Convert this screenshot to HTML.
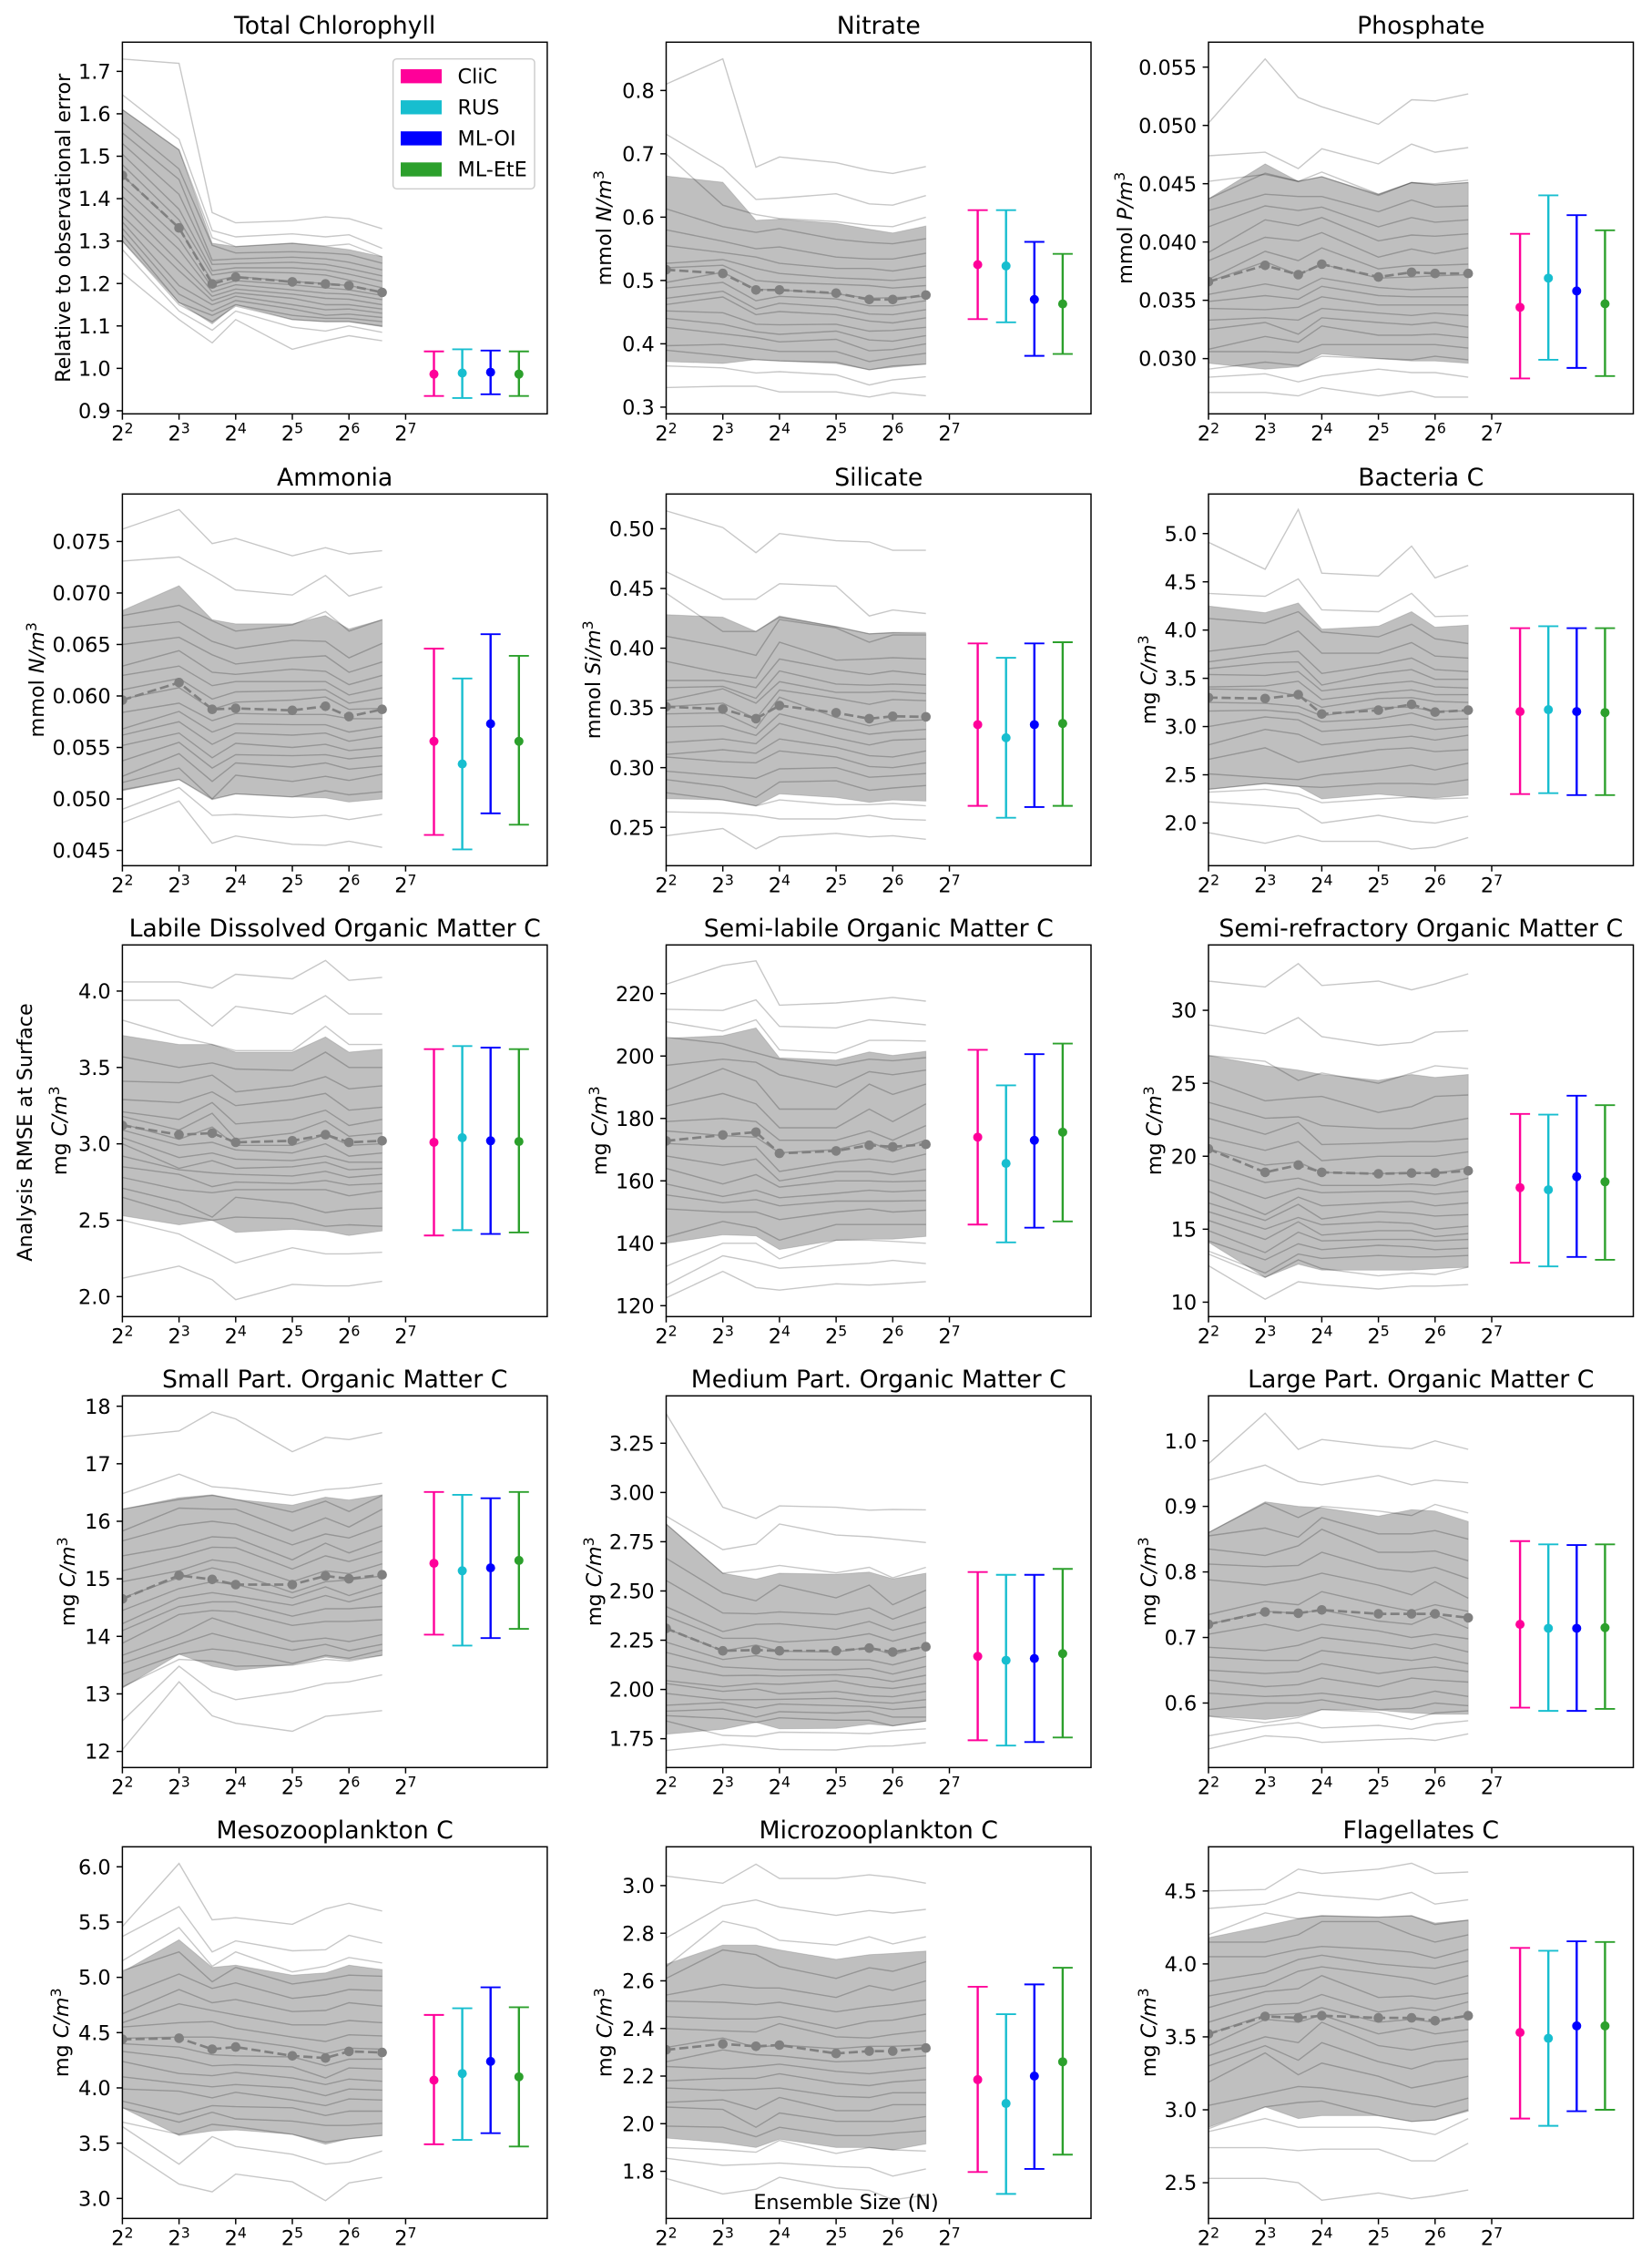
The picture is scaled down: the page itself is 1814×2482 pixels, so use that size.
<!DOCTYPE html>
<html lang="en">
<head>
<meta charset="utf-8">
<title>Analysis RMSE at Surface vs Ensemble Size</title>
<style>
html,body{margin:0;padding:0;background:#fff;}
svg{display:block;font-family:"DejaVu Sans","Liberation Sans",sans-serif;}
</style>
</head>
<body>
<svg id="figure" xmlns="http://www.w3.org/2000/svg" width="1814" height="2482" viewBox="0 0 1814 2482"></svg>
<script>
// ---------- shared categories ----------
const ensembleSizes = [4, 8, 12, 16, 32, 48, 64, 96];
const methodExponents = [7.5, 8, 8.5, 9];
const methodNames = ['CliC', 'RUS', 'ML-OI', 'ML-EtE'];
const methodColors = ['#ff0099', '#17becf', '#0000ff', '#2ca02c'];
const xTickExponents = [2, 3, 4, 5, 6, 7];

// ---------- Total Chlorophyll ----------
const chlYlim = [0.8928, 1.7688];
const chlTicks = ['0.9','1.0','1.1','1.2','1.3','1.4','1.5','1.6','1.7'];
const chlMembersBySize = [
[1.729,1.645,1.61,1.58,1.555,1.53,1.505,1.48,1.455,1.43,1.405,1.385,1.36,1.345,1.33,1.315,1.30,1.28,1.225],
[1.719,1.54,1.515,1.47,1.445,1.41,1.375,1.35,1.33,1.305,1.28,1.25,1.23,1.195,1.175,1.155,1.15,1.135,1.115],
[1.367,1.325,1.308,1.29,1.255,1.245,1.23,1.22,1.205,1.19,1.18,1.17,1.16,1.15,1.135,1.125,1.11,1.09,1.06],
[1.343,1.31,1.287,1.272,1.258,1.247,1.237,1.228,1.217,1.207,1.197,1.187,1.178,1.17,1.16,1.15,1.147,1.135,1.115],
[1.348,1.317,1.295,1.275,1.262,1.25,1.237,1.225,1.205,1.197,1.185,1.175,1.165,1.15,1.14,1.125,1.115,1.097,1.045],
[1.357,1.31,1.288,1.272,1.258,1.245,1.232,1.22,1.20,1.19,1.177,1.165,1.15,1.138,1.125,1.118,1.11,1.088,1.065],
[1.353,1.315,1.293,1.268,1.25,1.235,1.222,1.208,1.195,1.185,1.175,1.163,1.15,1.14,1.128,1.118,1.11,1.10,1.077],
[1.329,1.283,1.263,1.248,1.232,1.218,1.205,1.19,1.18,1.172,1.162,1.15,1.14,1.13,1.12,1.11,1.10,1.085,1.065]];
const chlBandTop = [1.61,1.515,1.295,1.287,1.295,1.287,1.28,1.263];
const chlBandBottom = [1.30,1.155,1.105,1.15,1.115,1.11,1.11,1.098];
const chlMean = [1.455,1.331,1.199,1.215,1.204,1.199,1.195,1.179];
const chlErrMid = [0.9865,0.989,0.991,0.9865];
const chlErrHigh = [1.04,1.045,1.042,1.04];
const chlErrLow = [0.935,0.93,0.939,0.935];

// ---------- Nitrate ----------
const no3Ylim = [0.2894, 0.8763];
const no3Ticks = ['0.3','0.4','0.5','0.6','0.7','0.8'];
const no3MembersByLine = [
[.81,.85,.679,.695,.686,.674,.669,.68],
[.731,.678,.628,.63,.637,.621,.619,.634],
[.70,.619,.604,.598,.593,.587,.585,.60],
[.613,.585,.576,.582,.565,.56,.558,.566],
[.58,.562,.55,.553,.537,.534,.534,.543],
[.555,.544,.537,.527,.519,.519,.515,.523],
[.527,.533,.519,.511,.504,.502,.50,.505],
[.52,.524,.50,.497,.494,.492,.488,.492],
[.497,.513,.486,.485,.479,.472,.473,.475],
[.488,.497,.468,.475,.471,.46,.46,.468],
[.472,.483,.455,.464,.458,.447,.446,.454],
[.462,.474,.446,.451,.446,.436,.433,.441],
[.452,.449,.431,.43,.431,.42,.421,.426],
[.44,.431,.419,.415,.42,.406,.404,.413],
[.426,.416,.41,.403,.407,.389,.391,.40],
[.397,.399,.393,.388,.388,.372,.378,.385],
[.39,.381,.375,.373,.371,.359,.365,.368],
[.365,.362,.354,.356,.351,.335,.343,.348],
[.331,.333,.333,.324,.324,.316,.323,.318]];
const no3BandTop = [.665,.655,.595,.597,.59,.581,.575,.586];
const no3BandBottom = [.372,.369,.375,.373,.369,.359,.363,.368];
const no3Mean = [.517,.511,.485,.485,.48,.47,.47,.477];
const no3ErrMid = [.525,.523,.47,.463];
const no3ErrHigh = [.611,.611,.561,.542];
const no3ErrLow = [.439,.434,.381,.384];

// ---------- Phosphate ----------
const po4Ylim = [0.02526, 0.05714];
const po4Ticks = ['0.030','0.035','0.040','0.045','0.050','0.055'];
const po4MembersByLine = [
[.0502,.0557,.0524,.0516,.0501,.0522,.0521,.0527],
[.0474,.0477,.0463,.048,.0467,.0484,.0477,.0481],
[.0452,.0458,.0452,.046,.0441,.0451,.045,.0453],
[.0437,.0459,.0452,.0456,.044,.0451,.0449,.0451],
[.0427,.0441,.0439,.0439,.0426,.0436,.043,.0431],
[.0413,.0431,.0427,.043,.0413,.0421,.0417,.0419],
[.0391,.0419,.0414,.0421,.0401,.0406,.0405,.0407],
[.0384,.0404,.0401,.0408,.0387,.0394,.039,.0395],
[.0368,.0392,.0384,.0395,.0377,.038,.038,.0381],
[.0366,.0383,.0372,.0381,.0369,.037,.0371,.0372],
[.0355,.0364,.0359,.0369,.0361,.0359,.036,.0361],
[.0349,.0354,.0351,.0362,.0354,.0353,.0353,.0353],
[.0343,.0342,.0344,.0353,.0346,.0346,.0346,.0346],
[.0333,.0335,.0333,.0343,.0339,.0337,.0339,.0337],
[.0325,.0331,.0321,.0335,.0331,.0329,.0331,.0327],
[.0308,.0319,.0314,.0328,.032,.032,.0321,.0318],
[.0306,.0306,.0305,.0312,.0312,.0312,.0312,.0309],
[.0291,.0297,.0294,.0302,.03,.0299,.0302,.0299],
[.0284,.0287,.028,.0285,.0291,.0288,.0288,.0284],
[.0271,.0271,.0268,.0275,.0268,.0272,.0267,.0267]];
const po4BandTop = [.0437,.0467,.0452,.0456,.0441,.0451,.0449,.0451];
const po4BandBottom = [.0296,.0291,.0293,.0304,.03,.0298,.0298,.0296];
const po4Mean = [.0366,.038,.0372,.0381,.037,.0374,.0373,.0373];
const po4ErrMid = [.0344,.0369,.0358,.0347];
const po4ErrHigh = [.0407,.044,.0423,.041];
const po4ErrLow = [.0283,.0299,.0292,.0285];

// ---------- Ammonia ----------
const nh4Ylim = [0.04352, 0.07961];
const nh4Ticks = ['0.045','0.050','0.055','0.060','0.065','0.070','0.075'];
const nh4MembersBySize = [
[.0762,.0731,.0678,.0666,.065,.0629,.062,.0606,.0597,.0584,.0568,.0562,.0552,.0537,.0522,.0516,.0509,.049,.0477],
[.0781,.0735,.0688,.0672,.0657,.0644,.0629,.0617,.0608,.0593,.0585,.0575,.0564,.0555,.0544,.053,.0519,.0511,.0498],
[.0748,.0717,.0673,.0653,.064,.0623,.061,.0597,.0587,.0576,.0565,.0553,.054,.053,.0517,.05,.04995,.0484,.0457],
[.0753,.0703,.0663,.0646,.0631,.0621,.0614,.0604,.0594,.0583,.0573,.0564,.0554,.0543,.0535,.0523,.0505,.0485,.0464],
[.0736,.0698,.0669,.0654,.0637,.0626,.0614,.0605,.0596,.0582,.0572,.0562,.055,.0542,.0531,.0517,.0502,.0482,.0456],
[.0744,.0717,.0682,.0653,.0639,.0624,.0614,.0606,.0599,.0582,.0572,.0564,.0553,.0543,.0535,.0522,.0508,.0484,.0455],
[.0738,.0697,.0663,.0637,.0623,.0611,.0601,.0593,.0587,.0578,.0565,.0556,.0547,.0539,.0529,.0518,.0504,.048,.0459],
[.0741,.0706,.0674,.0651,.0633,.062,.0608,.0598,.0588,.0578,.057,.0561,.055,.0542,.0532,.0524,.0507,.0485,.0453]];
const nh4BandTop = [.0683,.0707,.0674,.067,.067,.0678,.0665,.0674];
const nh4BandBottom = [.0508,.0519,.05,.0505,.0502,.0501,.0497,.05];
const nh4Mean = [.0596,.0613,.0587,.0588,.0586,.059,.058,.0587];
const nh4ErrMid = [.0556,.0534,.0573,.0556];
const nh4ErrHigh = [.0646,.0617,.066,.0639];
const nh4ErrLow = [.0465,.0451,.0486,.0475];

// ---------- Silicate ----------
const sio3Ylim = [0.2179, 0.5291];
const sio3Ticks = ['0.25','0.30','0.35','0.40','0.45','0.50'];
const sio3MembersBySize = [
[.515,.464,.446,.41,.389,.373,.367,.356,.351,.345,.334,.321,.311,.309,.297,.29,.279,.263,.243],
[.501,.441,.414,.401,.379,.373,.368,.366,.354,.346,.335,.324,.315,.305,.293,.284,.273,.262,.249],
[.48,.441,.414,.394,.375,.367,.358,.354,.341,.333,.327,.32,.312,.304,.291,.275,.268,.26,.232],
[.496,.454,.426,.424,.405,.391,.381,.372,.365,.359,.345,.337,.324,.314,.299,.288,.273,.257,.242],
[.49,.452,.418,.417,.39,.382,.37,.363,.358,.342,.334,.325,.317,.309,.3,.289,.269,.257,.245],
[.489,.427,.412,.405,.391,.378,.369,.363,.353,.335,.328,.319,.31,.301,.292,.281,.269,.26,.242],
[.482,.432,.413,.411,.392,.381,.37,.364,.357,.339,.33,.323,.309,.3,.293,.283,.27,.257,.243],
[.482,.429,.413,.411,.391,.378,.369,.362,.356,.34,.332,.324,.314,.304,.295,.285,.268,.256,.24]];
const sio3BandTop = [.428,.426,.414,.427,.418,.412,.413,.4125];
const sio3BandBottom = [.274,.273,.268,.278,.275,.271,.273,.272];
const sio3Mean = [.351,.349,.341,.352,.346,.341,.343,.3425];
const sio3ErrMid = [.336,.325,.336,.337];
const sio3ErrHigh = [.404,.392,.404,.405];
const sio3ErrLow = [.268,.258,.267,.268];

// ---------- Bacteria C ----------
const bacYlim = [1.558, 5.41];
const bacTicks = ['2.0','2.5','3.0','3.5','4.0','4.5','5.0'];
const bacMembersBySize = [
[4.91,4.38,4.12,3.78,3.67,3.6,3.54,3.41,3.39,3.25,3.16,3.0,2.81,2.66,2.51,2.35,2.32,2.22,1.9],
[4.63,4.35,4.07,3.85,3.75,3.66,3.53,3.42,3.38,3.24,3.17,3.10,2.97,2.78,2.47,2.41,2.35,2.18,1.79],
[5.25,4.53,4.19,3.99,3.78,3.67,3.57,3.47,3.32,3.21,3.14,3.07,2.92,2.63,2.45,2.38,2.30,2.15,1.87],
[4.59,4.21,3.98,3.76,3.55,3.43,3.37,3.28,3.2,3.11,3.05,2.95,2.81,2.67,2.5,2.37,2.21,2.0,1.81],
[4.56,4.19,3.93,3.76,3.64,3.55,3.44,3.35,3.29,3.2,3.08,2.99,2.87,2.76,2.55,2.41,2.25,2.08,1.81],
[4.87,4.38,4.06,3.87,3.71,3.59,3.47,3.38,3.3,3.2,3.14,3.02,2.9,2.78,2.6,2.41,2.27,2.02,1.73],
[4.54,4.14,3.91,3.73,3.59,3.49,3.41,3.33,3.26,3.16,3.07,2.97,2.86,2.74,2.55,2.4,2.25,2.0,1.75],
[4.67,4.15,3.86,3.71,3.57,3.49,3.4,3.33,3.25,3.16,3.08,3.0,2.91,2.76,2.62,2.45,2.26,2.07,1.85]];
const bacBandTop = [4.25,4.18,4.28,4.01,4.04,4.19,4.03,4.05];
const bacBandBottom = [2.35,2.41,2.38,2.25,2.3,2.27,2.26,2.29];
const bacMean = [3.3,3.29,3.33,3.13,3.17,3.23,3.15,3.17];
const bacErrMid = [3.155,3.175,3.155,3.145];
const bacErrHigh = [4.02,4.04,4.02,4.02];
const bacErrLow = [2.3,2.31,2.29,2.29];

// ---------- Labile DOM C ----------
const ldomYlim = [1.869, 4.302];
const ldomTicks = ['2.0','2.5','3.0','3.5','4.0'];
const ldomMembersBySize = [
[4.06,3.94,3.81,3.57,3.41,3.29,3.21,3.18,3.13,3.09,3.04,3.0,2.92,2.85,2.78,2.71,2.65,2.5,2.12],
[4.06,3.94,3.7,3.5,3.4,3.27,3.16,3.09,3.03,2.99,2.91,2.84,2.83,2.8,2.7,2.62,2.54,2.41,2.2],
[4.02,3.77,3.65,3.53,3.45,3.34,3.27,3.2,3.11,3.01,2.94,2.89,2.81,2.72,2.68,2.52,2.5,2.3,2.11],
[4.11,3.9,3.61,3.49,3.34,3.25,3.13,3.03,2.99,2.96,2.9,2.84,2.8,2.75,2.7,2.65,2.52,2.22,1.98],
[4.08,3.85,3.61,3.48,3.38,3.29,3.16,3.07,2.99,2.94,2.89,2.85,2.79,2.74,2.7,2.61,2.51,2.32,2.08],
[4.2,3.97,3.77,3.6,3.44,3.33,3.22,3.15,3.06,3.0,2.92,2.88,2.82,2.76,2.7,2.55,2.46,2.28,2.07],
[4.07,3.85,3.65,3.5,3.36,3.22,3.12,3.05,2.99,2.92,2.88,2.83,2.78,2.73,2.66,2.57,2.47,2.28,2.07],
[4.09,3.85,3.65,3.5,3.38,3.24,3.16,3.07,3.0,2.94,2.88,2.84,2.8,2.74,2.69,2.58,2.46,2.29,2.1]];
const ldomBandTop = [3.71,3.65,3.65,3.6,3.6,3.7,3.6,3.62];
const ldomBandBottom = [2.53,2.47,2.5,2.42,2.44,2.43,2.4,2.43];
const ldomMean = [3.12,3.06,3.07,3.01,3.02,3.06,3.01,3.02];
const ldomErrMid = [3.01,3.04,3.02,3.015];
const ldomErrHigh = [3.62,3.64,3.63,3.62];
const ldomErrLow = [2.4,2.435,2.41,2.42];

// ---------- Semi-labile OM C ----------
const slomYlim = [116.5, 235.6];
const slomTicks = ['120','140','160','180','200','220'];
const slomMembersBySize = [
[223,215,211,206,197,189,184,179,176,172,168,164,159,155.5,151,142,132.6,126.6,122.5],
[229,214.6,208,204,199,196,188,180,174.5,171,165,159,155,153,150,147,140,136,131],
[230.5,218,211.6,201,198,192,184.7,179,174,171,167,162,157,154,150,145,140,134,125.8],
[216.3,209.5,202,199,194,183,177,173,169,163,160,158,154.6,152,147.6,141,135,132,125],
[217,209,201,197,190,183,177,173,170,166,163,160,156,153.5,150,146,141,133,127],
[218,211.6,205,199,195,191,183,176,172.5,167,163,160,157,153.5,151,146,141,133.6,126.6],
[218.8,211,205,198.5,194,187.7,179,173,169.5,166,162,159.7,156.5,153.5,150,146,140.6,134.5,127],
[217.6,210,204.8,199.5,195.5,191,184.7,177.7,173,168.6,163.7,160,157,153.7,150.6,146,140,133.5,127.7]];
const slomBandTop = [205.7,206.5,209,199.4,198.7,201.3,200.2,201.5];
const slomBandBottom = [140,142.7,142.4,138,141,141.3,141.3,142.2];
const slomMean = [172.8,174.7,175.6,168.8,169.6,171.4,170.9,171.7];
const slomErrMid = [174,165.6,173,175.6];
const slomErrHigh = [202,190.6,200.6,204];
const slomErrLow = [146,140.3,145,147];

// ---------- Semi-refractory OM C ----------
const srefYlim = [9.01, 34.48];
const srefTicks = ['10','15','20','25','30'];
const srefMembersBySize = [
[32,29,26.9,25.2,23.7,22.6,21.3,20.5,19.5,18.4,17.6,16.8,16.2,15.6,14.9,14.2,13.5,13.3,12.5],
[31.6,28.4,26.5,23.8,22.6,21.5,20.4,19.4,18.2,17.1,16,15.6,15,14.3,13.4,12.9,12,11.7,10.2],
[33.2,29.5,25.2,24,22.7,22.3,21,19.6,18.5,17.8,17.2,16.7,15.8,15.5,14.8,14,13.3,12.9,11.4],
[31.7,28.2,25.7,24.1,22.1,20.8,19.7,18.9,18,17.5,16.6,15.7,15.3,14.6,14.2,13.6,13,12.3,11.2],
[32,27.6,25,23,21.9,20.9,20,18.8,18,17.6,16.8,16.2,15.5,14.9,14.3,13.9,13.2,11.8,10.9],
[31.4,27.8,25.7,23.4,21.9,21,20,18.9,18.1,17.6,16.9,16.1,15.4,14.9,14.3,13.8,13.1,12,11.1],
[31.8,28.5,26.2,24.1,22.2,21,20,18.8,18,17.4,16.6,15.9,15,14.5,14.2,13.6,13.1,11.9,11.1],
[32.5,28.6,26,24.2,22.6,21.2,20.3,19.2,18.5,17.6,16.8,16,15.2,14.7,14.3,13.7,13.2,12.4,11.2]];
const srefBandTop = [26.9,26.2,25.9,25.6,25.2,25.6,25.4,25.6];
const srefBandBottom = [14.1,11.7,12.6,12.2,12.2,12.2,12.3,12.4];
const srefMean = [20.5,18.9,19.4,18.9,18.8,18.85,18.85,19];
const srefErrMid = [17.85,17.7,18.6,18.25];
const srefErrHigh = [22.9,22.85,24.15,23.5];
const srefErrLow = [12.7,12.45,13.1,12.9];

// ---------- Small Part. OM C ----------
const spomYlim = [11.72, 18.18];
const spomTicks = ['12','13','14','15','16','17','18'];
const spomMembersBySize = [
[17.47,16.48,16.21,15.83,15.66,15.4,15.14,14.95,14.67,14.45,14.22,14.1,13.88,13.67,13.53,13.34,13.12,12.53,12.03],
[17.57,16.82,16.38,16.23,15.93,15.57,15.38,15.14,15.02,14.83,14.67,14.52,14.38,14.03,13.86,13.69,13.6,13.48,13.21],
[17.9,16.6,16.45,16.21,16.0,15.73,15.55,15.33,15.19,14.95,14.76,14.6,14.45,14.32,14.05,13.78,13.57,13.04,12.62],
[17.78,16.57,16.38,16.21,15.95,15.71,15.54,15.28,15.1,14.9,14.7,14.6,14.43,14.19,13.95,13.74,13.48,12.9,12.49],
[17.21,16.45,16.16,15.83,15.59,15.33,15.17,14.95,14.76,14.67,14.54,14.35,14.19,13.91,13.76,13.53,13.5,13.04,12.35],
[17.46,16.55,16.35,16.06,15.78,15.62,15.4,15.14,14.95,14.86,14.71,14.48,14.26,13.97,13.86,13.67,13.6,13.18,12.61],
[17.42,16.58,16.17,15.9,15.71,15.45,15.3,15.09,14.98,14.71,14.6,14.48,14.26,13.91,13.75,13.62,13.57,13.21,12.65],
[17.54,16.66,16.45,16.21,15.92,15.66,15.47,15.26,15.05,14.89,14.76,14.52,14.29,14.03,13.86,13.76,13.67,13.33,12.71]];
const spomBandTop = [16.21,16.41,16.46,16.38,16.28,16.42,16.37,16.46];
const spomBandBottom = [13.1,13.69,13.48,13.41,13.51,13.64,13.59,13.67];
const spomMean = [14.65,15.06,14.99,14.9,14.9,15.05,15.0,15.07];
const spomErrMid = [15.27,15.14,15.19,15.32];
const spomErrHigh = [16.51,16.46,16.4,16.51];
const spomErrLow = [14.03,13.84,13.97,14.13];

// ---------- Medium Part. OM C ----------
const mpomYlim = [1.6036, 3.4905];
const mpomTicks = ['1.75','2.00','2.25','2.50','2.75','3.00','3.25'];
const mpomMembersBySize = [
[3.4,2.88,2.84,2.666,2.553,2.42,2.373,2.31,2.24,2.188,2.12,2.045,2.03,1.98,1.92,1.89,1.867,1.84,1.69],
[2.925,2.71,2.59,2.49,2.388,2.294,2.26,2.195,2.152,2.114,2.07,2.014,1.99,1.948,1.934,1.90,1.853,1.767,1.72],
[2.868,2.738,2.61,2.45,2.384,2.33,2.26,2.225,2.172,2.106,2.072,2.03,2.003,1.948,1.906,1.86,1.833,1.762,1.707],
[2.932,2.84,2.63,2.53,2.394,2.334,2.24,2.194,2.152,2.1,2.068,2.026,1.978,1.95,1.926,1.887,1.856,1.783,1.695],
[2.925,2.784,2.592,2.465,2.38,2.305,2.256,2.19,2.15,2.1,2.075,2.044,1.99,1.955,1.918,1.88,1.844,1.78,1.693],
[2.91,2.775,2.62,2.53,2.414,2.345,2.283,2.214,2.15,2.106,2.06,2.014,1.968,1.937,1.914,1.89,1.844,1.776,1.712],
[2.914,2.763,2.567,2.43,2.357,2.3,2.245,2.176,2.125,2.078,2.04,2.005,1.963,1.93,1.898,1.86,1.816,1.79,1.713],
[2.912,2.746,2.62,2.504,2.418,2.342,2.288,2.22,2.168,2.117,2.072,2.03,1.99,1.948,1.91,1.86,1.84,1.80,1.73]];
const mpomBandTop = [2.84,2.59,2.56,2.59,2.585,2.596,2.562,2.59];
const mpomBandBottom = [1.773,1.798,1.833,1.8,1.803,1.824,1.815,1.84];
const mpomMean = [2.31,2.196,2.2,2.196,2.196,2.21,2.19,2.217];
const mpomErrMid = [2.168,2.148,2.157,2.182];
const mpomErrHigh = [2.596,2.582,2.582,2.612];
const mpomErrLow = [1.742,1.715,1.733,1.756];

// ---------- Large Part. OM C ----------
const lpomYlim = [0.5016, 1.0686];
const lpomTicks = ['0.6','0.7','0.8','0.9','1.0'];
const lpomMembersBySize = [
[.965,.94,.86,.855,.835,.812,.788,.735,.72,.705,.685,.67,.65,.635,.615,.59,.58,.55,.53],
[1.042,.963,.905,.867,.825,.808,.78,.755,.74,.72,.68,.665,.645,.625,.61,.6,.57,.565,.55],
[.987,.938,.883,.853,.84,.81,.788,.75,.737,.71,.688,.665,.648,.628,.612,.6,.578,.57,.547],
[1.002,.933,.9,.883,.865,.83,.798,.77,.742,.72,.7,.68,.66,.638,.615,.605,.59,.562,.54],
[.992,.947,.893,.858,.83,.805,.78,.75,.725,.71,.69,.67,.645,.625,.605,.59,.586,.566,.544],
[.988,.933,.886,.858,.83,.80,.765,.74,.72,.70,.683,.665,.652,.638,.61,.592,.575,.56,.546],
[1.0,.94,.903,.863,.832,.807,.785,.75,.735,.705,.69,.67,.655,.635,.618,.60,.585,.568,.543],
[.987,.936,.89,.85,.817,.79,.76,.74,.714,.698,.678,.66,.648,.632,.61,.596,.588,.573,.553]];
const lpomBandTop = [.86,.907,.9,.898,.885,.895,.893,.877];
const lpomBandBottom = [.58,.575,.58,.59,.589,.585,.583,.583];
const lpomMean = [.72,.739,.737,.742,.736,.736,.736,.73];
const lpomErrMid = [.72,.714,.714,.715];
const lpomErrHigh = [.847,.842,.841,.842];
const lpomErrLow = [.593,.588,.588,.591];

// ---------- Mesozooplankton C ----------
const mesoYlim = [2.819, 6.181];
const mesoTicks = ['3.0','3.5','4.0','4.5','5.0','5.5','6.0'];
const mesoMembersBySize = [
[5.46,5.37,5.15,5.06,4.83,4.67,4.59,4.55,4.45,4.40,4.33,4.24,4.1,3.99,3.88,3.82,3.69,3.65,3.47],
[6.03,5.64,5.45,5.23,5.03,4.89,4.76,4.59,4.46,4.37,4.27,4.13,4.04,3.97,3.76,3.69,3.58,3.31,3.13],
[5.52,5.23,5.1,4.96,4.9,4.77,4.7,4.6,4.46,4.3,4.2,4.11,4.01,3.91,3.84,3.78,3.67,3.56,3.06],
[5.54,5.33,5.23,5.09,4.95,4.8,4.66,4.54,4.44,4.29,4.21,4.14,4.03,3.96,3.83,3.72,3.65,3.47,3.22],
[5.48,5.24,5.05,4.94,4.81,4.69,4.57,4.46,4.37,4.28,4.19,4.09,4.0,3.89,3.82,3.7,3.58,3.4,3.15],
[5.62,5.25,5.1,4.98,4.84,4.7,4.57,4.42,4.31,4.2,4.09,4.03,3.93,3.84,3.75,3.66,3.51,3.31,2.98],
[5.67,5.38,5.18,5.02,4.89,4.77,4.61,4.48,4.36,4.26,4.18,4.08,3.99,3.9,3.79,3.66,3.54,3.33,3.14],
[5.6,5.31,5.13,5.01,4.88,4.74,4.59,4.47,4.35,4.26,4.17,4.06,3.98,3.89,3.79,3.68,3.57,3.43,3.19]];
const mesoBandTop = [5.05,5.34,5.09,5.11,5.02,5.04,5.11,5.07];
const mesoBandBottom = [3.82,3.57,3.61,3.62,3.58,3.49,3.54,3.57];
const mesoMean = [4.44,4.45,4.35,4.37,4.29,4.27,4.33,4.32];
const mesoErrMid = [4.07,4.13,4.24,4.1];
const mesoErrHigh = [4.66,4.72,4.91,4.73];
const mesoErrLow = [3.49,3.53,3.59,3.47];

// ---------- Microzooplankton C ----------
const microYlim = [1.602, 3.163];
const microTicks = ['1.8','2.0','2.2','2.4','2.6','2.8','3.0'];
const microMembersBySize = [
[3.04,2.78,2.66,2.61,2.54,2.515,2.45,2.4,2.32,2.26,2.24,2.18,2.15,2.09,2.07,1.99,1.9,1.855,1.77],
[3.01,2.915,2.85,2.73,2.585,2.51,2.44,2.39,2.36,2.31,2.23,2.19,2.14,2.1,2.06,1.985,1.89,1.825,1.705],
[3.09,2.94,2.82,2.71,2.57,2.5,2.44,2.385,2.32,2.29,2.24,2.19,2.145,2.06,1.985,1.945,1.88,1.83,1.725],
[3.03,2.91,2.77,2.66,2.57,2.51,2.45,2.42,2.33,2.285,2.25,2.21,2.15,2.11,2.045,1.985,1.93,1.835,1.775],
[3.03,2.875,2.75,2.61,2.53,2.47,2.4,2.365,2.315,2.26,2.22,2.17,2.115,2.055,2.01,1.95,1.875,1.82,1.73],
[3.045,2.895,2.785,2.655,2.58,2.49,2.43,2.36,2.325,2.265,2.21,2.16,2.11,2.055,2.01,1.95,1.9,1.815,1.72],
[3.035,2.885,2.755,2.64,2.56,2.5,2.435,2.375,2.325,2.275,2.22,2.175,2.13,2.08,2.01,1.96,1.89,1.78,1.68],
[3.01,2.9,2.785,2.68,2.6,2.52,2.46,2.39,2.33,2.285,2.235,2.185,2.13,2.08,2.03,1.97,1.885,1.81,1.7]];
const microBandTop = [2.67,2.75,2.75,2.73,2.69,2.71,2.715,2.725];
const microBandBottom = [1.94,1.92,1.9,1.935,1.9,1.9,1.89,1.915];
const microMean = [2.31,2.335,2.325,2.33,2.295,2.305,2.305,2.318];
const microErrMid = [2.185,2.085,2.2,2.26];
const microErrHigh = [2.575,2.46,2.585,2.655];
const microErrLow = [1.797,1.705,1.81,1.87];

// ---------- Flagellates C ----------
const flagYlim = [2.255, 4.803];
const flagTicks = ['2.5','3.0','3.5','4.0','4.5'];
const flagMembersBySize = [
[4.5,4.38,4.2,4.15,4.05,3.88,3.78,3.7,3.6,3.52,3.44,3.37,3.3,3.19,3.03,2.87,2.85,2.74,2.53],
[4.51,4.41,4.35,4.15,4.05,3.94,3.85,3.81,3.72,3.65,3.62,3.5,3.44,3.39,3.11,3.02,2.94,2.74,2.53],
[4.65,4.49,4.31,4.2,4.1,4.03,3.95,3.83,3.73,3.66,3.6,3.46,3.34,3.24,3.16,3.05,2.88,2.72,2.5],
[4.62,4.47,4.33,4.29,4.12,4.06,3.98,3.92,3.79,3.7,3.65,3.6,3.46,3.32,3.15,3.06,2.88,2.73,2.38],
[4.65,4.44,4.32,4.29,4.1,4.0,3.93,3.77,3.67,3.6,3.52,3.44,3.33,3.23,3.09,2.96,2.88,2.73,2.43],
[4.69,4.49,4.33,4.2,4.08,3.98,3.9,3.78,3.7,3.62,3.56,3.41,3.28,3.15,3.04,2.92,2.86,2.65,2.39],
[4.62,4.41,4.27,4.15,4.04,3.97,3.86,3.76,3.68,3.6,3.52,3.44,3.33,3.18,3.02,2.93,2.83,2.65,2.41],
[4.63,4.44,4.3,4.2,4.1,4.02,3.92,3.8,3.74,3.65,3.55,3.47,3.35,3.23,3.08,3.0,2.94,2.77,2.45]];
const flagBandTop = [4.18,4.26,4.31,4.33,4.32,4.33,4.28,4.3];
const flagBandBottom = [2.88,3.02,2.94,2.96,2.96,2.92,2.93,2.99];
const flagMean = [3.52,3.64,3.63,3.645,3.63,3.63,3.61,3.645];
const flagErrMid = [3.53,3.49,3.575,3.575];
const flagErrHigh = [4.11,4.09,4.155,4.15];
const flagErrLow = [2.94,2.89,2.99,3.0];

function transpose(rows) {
  return rows[0].map((_, c) => rows.map(r => r[c]));
}

// ---------- panel registry (references to the arrays above) ----------
const panelTitles = ['Total Chlorophyll','Nitrate','Phosphate','Ammonia','Silicate','Bacteria C',
  'Labile Dissolved Organic Matter C','Semi-labile Organic Matter C','Semi-refractory Organic Matter C',
  'Small Part. Organic Matter C','Medium Part. Organic Matter C','Large Part. Organic Matter C',
  'Mesozooplankton C','Microzooplankton C','Flagellates C'];
const panelUnits = [null,['mmol ','N/m'],['mmol ','P/m'],['mmol ','N/m'],['mmol ','Si/m'],['mg ','C/m'],
  ['mg ','C/m'],['mg ','C/m'],['mg ','C/m'],['mg ','C/m'],['mg ','C/m'],['mg ','C/m'],
  ['mg ','C/m'],['mg ','C/m'],['mg ','C/m']];
const panelYlims = [chlYlim,no3Ylim,po4Ylim,nh4Ylim,sio3Ylim,bacYlim,ldomYlim,slomYlim,srefYlim,spomYlim,mpomYlim,lpomYlim,mesoYlim,microYlim,flagYlim];
const panelTicks = [chlTicks,no3Ticks,po4Ticks,nh4Ticks,sio3Ticks,bacTicks,ldomTicks,slomTicks,srefTicks,spomTicks,mpomTicks,lpomTicks,mesoTicks,microTicks,flagTicks];
const panelMembers = [chlMembersBySize,transpose(no3MembersByLine),transpose(po4MembersByLine),nh4MembersBySize,sio3MembersBySize,bacMembersBySize,ldomMembersBySize,slomMembersBySize,srefMembersBySize,spomMembersBySize,mpomMembersBySize,lpomMembersBySize,mesoMembersBySize,microMembersBySize,flagMembersBySize];
const panelBandTops = [chlBandTop,no3BandTop,po4BandTop,nh4BandTop,sio3BandTop,bacBandTop,ldomBandTop,slomBandTop,srefBandTop,spomBandTop,mpomBandTop,lpomBandTop,mesoBandTop,microBandTop,flagBandTop];
const panelBandBottoms = [chlBandBottom,no3BandBottom,po4BandBottom,nh4BandBottom,sio3BandBottom,bacBandBottom,ldomBandBottom,slomBandBottom,srefBandBottom,spomBandBottom,mpomBandBottom,lpomBandBottom,mesoBandBottom,microBandBottom,flagBandBottom];
const panelMeans = [chlMean,no3Mean,po4Mean,nh4Mean,sio3Mean,bacMean,ldomMean,slomMean,srefMean,spomMean,mpomMean,lpomMean,mesoMean,microMean,flagMean];
const panelErrMids = [chlErrMid,no3ErrMid,po4ErrMid,nh4ErrMid,sio3ErrMid,bacErrMid,ldomErrMid,slomErrMid,srefErrMid,spomErrMid,mpomErrMid,lpomErrMid,mesoErrMid,microErrMid,flagErrMid];
const panelErrHighs = [chlErrHigh,no3ErrHigh,po4ErrHigh,nh4ErrHigh,sio3ErrHigh,bacErrHigh,ldomErrHigh,slomErrHigh,srefErrHigh,spomErrHigh,mpomErrHigh,lpomErrHigh,mesoErrHigh,microErrHigh,flagErrHigh];
const panelErrLows = [chlErrLow,no3ErrLow,po4ErrLow,nh4ErrLow,sio3ErrLow,bacErrLow,ldomErrLow,slomErrLow,srefErrLow,spomErrLow,mpomErrLow,lpomErrLow,mesoErrLow,microErrLow,flagErrLow];

// ---------- layout (figure geometry, not data) ----------
const colLefts = [134.4, 731.5, 1327];
const rowTops = [46.3, 542.3, 1037.3, 1532.3, 2027.3];
const axW = 466.5, axH = 408;
const labelCenters = [69,663,1235,40,651,1261,65,658,1267,74,652,1261,67,663.5,1261];
const xMinExp = 2, xMaxExp = 9.5;
const titleSize = 26.7, tickSize = 22.4, labelSize = 22.3, supSize = 15.7;

const NS = 'http://www.w3.org/2000/svg';
const fig = document.getElementById('figure');
function make(tag, attrs, parent) {
  const el = document.createElementNS(NS, tag);
  for (const k in attrs) el.setAttribute(k, attrs[k]);
  parent.appendChild(el);
  return el;
}
function kebab(s) { return s.toLowerCase().replace(/[^a-z0-9]+/g, '-').replace(/-$/, ''); }

const defs = make('defs', {}, fig);

panelTitles.forEach((title, p) => {
  const col = p % 3, row = Math.floor(p / 3);
  const L = colLefts[col], T = rowTops[row], B = T + axH, R = L + axW;
  const ylim = panelYlims[p];
  const xExp = e => L + (e - xMinExp) / (xMaxExp - xMinExp) * axW;
  const xSize = n => xExp(Math.log2(n));
  const yVal = v => B - (v - ylim[0]) / (ylim[1] - ylim[0]) * axH;
  const slug = kebab(title);

  const group = make('g', {}, fig);
  
  

  const clip = make('clipPath', { id: 'clip' + p }, defs);
  make('rect', { x: L, y: T, width: axW, height: axH }, clip);
  const plot = make('g', { 'clip-path': 'url(#clip' + p + ')' }, group);
  
  

  // band
  const bandPts = ensembleSizes.map((n, i) => xSize(n).toFixed(1) + ',' + yVal(panelBandTops[p][i]).toFixed(1))
    .concat(ensembleSizes.map((n, i) => xSize(n).toFixed(1) + ',' + yVal(panelBandBottoms[p][i]).toFixed(1)).reverse());
  const band = make('polygon', { points: bandPts.join(' '), fill: '#808080', 'fill-opacity': 0.5, stroke: '#808080', 'stroke-opacity': 0.35, 'stroke-width': 1 }, plot);
  
  

  // member lines
  const cols = panelMembers[p];
  const nLines = Math.max.apply(null, cols.map(c => c.length));
  for (let j = 0; j < nLines; j++) {
    const pts = [];
    ensembleSizes.forEach((n, i) => {
      if (cols[i][j] !== undefined) pts.push(xSize(n).toFixed(1) + ',' + yVal(cols[i][j]).toFixed(1));
    });
    const ln = make('polyline', { points: pts.join(' '), fill: 'none', stroke: '#000', 'stroke-opacity': 0.22, 'stroke-width': 1.4 }, plot);
    
    
  }

  // mean line
  const meanPts = ensembleSizes.map((n, i) => xSize(n).toFixed(1) + ',' + yVal(panelMeans[p][i]).toFixed(1)).join(' ');
  const meanLine = make('polyline', { points: meanPts, fill: 'none', stroke: '#808080', 'stroke-width': 2.7, 'stroke-dasharray': '10 4.4' }, plot);
  
  
  ensembleSizes.forEach((n, i) => {
    const m = make('circle', { cx: xSize(n).toFixed(1), cy: yVal(panelMeans[p][i]).toFixed(1), r: 5.3, fill: '#808080' }, plot);
    
    
  });

  // error bars
  methodExponents.forEach((e, i) => {
    const x = xExp(e), c = methodColors[i];
    const g = make('g', {}, plot);
    
    
    const yHi = yVal(panelErrHighs[p][i]), yLo = yVal(panelErrLows[p][i]), yMid = yVal(panelErrMids[p][i]);
    make('line', { x1: x, x2: x, y1: yHi, y2: yLo, stroke: c, 'stroke-width': 2.4 }, g);
    make('line', { x1: x - 11, x2: x + 11, y1: yHi, y2: yHi, stroke: c, 'stroke-width': 1.9 }, g);
    make('line', { x1: x - 11, x2: x + 11, y1: yLo, y2: yLo, stroke: c, 'stroke-width': 1.9 }, g);
    make('circle', { cx: x, cy: yMid, r: 5, fill: c }, g);
  });

  // spines
  const frame = make('rect', { x: L, y: T, width: axW, height: axH, fill: 'none', stroke: '#000', 'stroke-width': 1.47 }, group);
  
  

  // x ticks
  xTickExponents.forEach(e => {
    const x = xExp(e);
    const t = make('line', { x1: x, x2: x, y1: B, y2: B + 6.4, stroke: '#000', 'stroke-width': 1.47 }, group);
    
    
    const lab = make('text', { x: x, y: B + 29, 'text-anchor': 'middle', 'font-size': tickSize, fill: '#000' }, group);
    
    
    lab.appendChild(document.createTextNode('2'));
    const sup = make('tspan', { dy: -8, 'font-size': supSize }, lab);
    sup.textContent = String(e);
  });

  // y ticks
  panelTicks[p].forEach(s => {
    const y = yVal(parseFloat(s));
    const t = make('line', { x1: L - 6.4, x2: L, y1: y, y2: y, stroke: '#000', 'stroke-width': 1.47 }, group);
    
    
    const lab = make('text', { x: L - 12.8, y: y + 8.1, 'text-anchor': 'end', 'font-size': tickSize, fill: '#000' }, group);
    
    
    lab.textContent = s;
  });

  // title
  const tt = make('text', { x: L + axW / 2, y: T - 9.5, 'text-anchor': 'middle', 'font-size': titleSize, fill: '#000' }, group);
  
  
  tt.textContent = title;

  // y label
  const cx = labelCenters[p], cy = T + axH / 2;
  const yl = make('text', { x: 0, y: 0, transform: 'translate(' + (cx + 8) + ',' + cy + ') rotate(-90)', 'text-anchor': 'middle', 'font-size': labelSize, fill: '#000' }, group);
  
  
  if (panelUnits[p] === null) {
    yl.textContent = 'Relative to observational error';
  } else {
    yl.appendChild(document.createTextNode(panelUnits[p][0]));
    const it = make('tspan', { 'font-style': 'italic' }, yl);
    it.textContent = panelUnits[p][1];
    const sp = make('tspan', { dy: -8, 'font-size': supSize }, yl);
    sp.textContent = '3';
  }
});

// legend in the first panel
const legend = make('g', {}, fig);


const legendBox = make('rect', { x: 431.6, y: 64.7, width: 155.4, height: 142.6, rx: 4, ry: 4, fill: '#fff', 'fill-opacity': 0.8, stroke: '#ccc', 'stroke-width': 1.47 }, legend);


methodNames.forEach((name, i) => {
  const y = 76 + i * 34.1;
  const sw = make('rect', { x: 440, y: y, width: 45, height: 15.4, fill: methodColors[i] }, legend);
  
  
  const tx = make('text', { x: 502.5, y: y + 15.4, 'font-size': labelSize, fill: '#000' }, legend);
  
  
  tx.textContent = name;
});

// figure-level labels
const leftLabel = make('text', { x: 0, y: 0, transform: 'translate(35,1243) rotate(-90)', 'text-anchor': 'middle', 'font-size': labelSize, fill: '#000' }, fig);


leftLabel.textContent = 'Analysis RMSE at Surface';
const bottomLabel = make('text', { x: 929, y: 2425, 'text-anchor': 'middle', 'font-size': labelSize, fill: '#000' }, fig);


bottomLabel.textContent = 'Ensemble Size (N)';
</script>
</body>
</html>
